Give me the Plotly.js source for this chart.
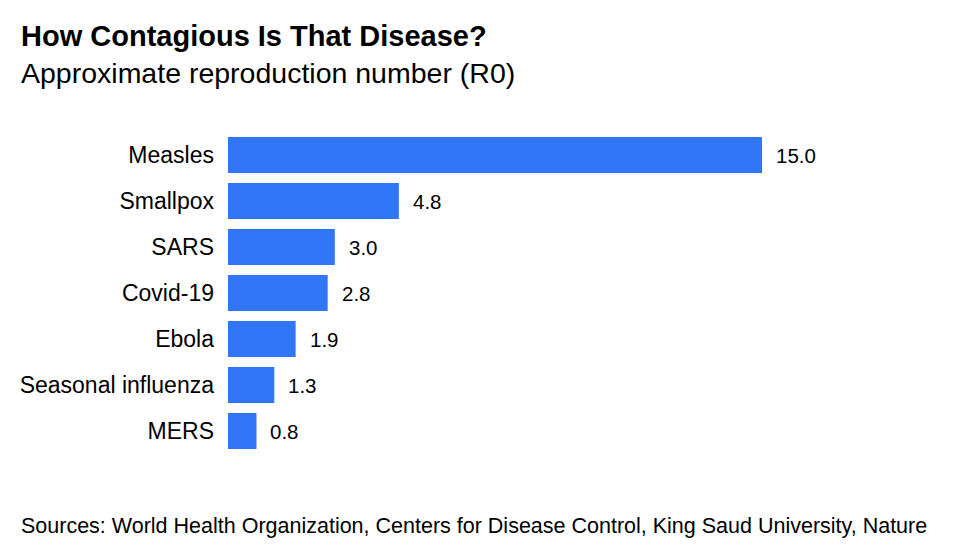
<!DOCTYPE html>
<html><head><meta charset="utf-8">
<script src="https://cdn.plot.ly/plotly-3.0.1.min.js"></script>
<style>html,body{margin:0;padding:0;background:#fff}#c{width:964px;height:552px}</style>
</head><body><div id="c"></div>
<script>
const diseases = ["Measles","Smallpox","SARS","Covid-19","Ebola","Seasonal influenza","MERS"];
const r0 = [15.0, 4.8, 3.0, 2.8, 1.9, 1.3, 0.8];
const labels = r0.map(v => v.toFixed(1));
const font = "Liberation Sans, Arial, sans-serif";
const L = 228, W = 534, T = 132, H = 322;
const px = x => (x - L) / W;
const py = y => 1 - (y - T) / H;
const trace = {
  type: "bar", orientation: "h", y: diseases, x: r0,
  marker: {color: "#3176F6"}, hoverinfo: "none"
};
const valueAnns = diseases.map((d, i) => ({
  x: r0[i], y: d, xref: "x", yref: "y", text: labels[i], showarrow: false,
  xanchor: "left", yanchor: "middle", xshift: 12,
  font: {family: font, size: 20.5, color: "#000"}
}));
const layout = {
  width: 964, height: 552,
  margin: {l: L, r: 964 - L - W, t: T, b: 552 - T - H},
  paper_bgcolor: "#fff", plot_bgcolor: "#fff",
  font: {family: font, color: "#000"},
  bargap: 0.22,
  xaxis: {range: [0, 15], showgrid: false, zeroline: false, showticklabels: false, showline: false, fixedrange: true},
  yaxis: {autorange: "reversed", type: "category", showgrid: false, zeroline: false, showline: false,
    ticks: "", ticklabelstandoff: 13, tickfont: {family: font, size: 23, color: "#000"}},
  showlegend: false,
  annotations: valueAnns.concat([
    {text: "<b>How Contagious Is That Disease?</b>", xref: "paper", yref: "paper", x: px(19), y: py(36),
     xanchor: "left", yanchor: "middle", showarrow: false, font: {family: font, size: 29, color: "#000"}},
    {text: "Approximate reproduction number (R0)", xref: "paper", yref: "paper", x: px(19), y: py(73),
     xanchor: "left", yanchor: "middle", showarrow: false, font: {family: font, size: 28.5, color: "#000"}},
    {text: "Sources: World Health Organization, Centers for Disease Control, King Saud University, Nature", xref: "paper", yref: "paper",
     x: px(19), y: py(526), xanchor: "left", yanchor: "middle", showarrow: false, font: {family: font, size: 21.5, color: "#000"}}
  ])
};
Plotly.newPlot("c", [trace], layout, {displayModeBar: false, staticPlot: true});
</script></body></html>
